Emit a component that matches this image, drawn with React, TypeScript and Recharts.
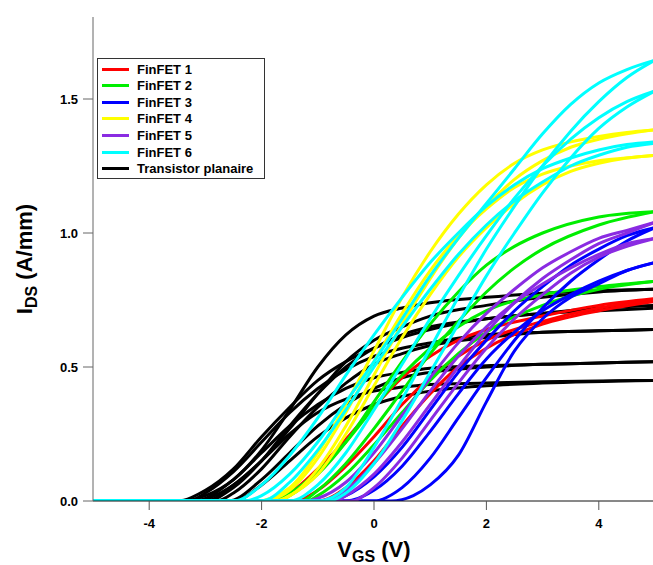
import React from 'react';
import { LineChart, Line, XAxis, YAxis, Label } from 'recharts';

type Pt = [number, number];

const xTicks = [-4, -2, 0, 2, 4];
const yTicks = [0, 0.5, 1.0, 1.5];

const deviceNames = ['FinFET 1', 'FinFET 2', 'FinFET 3', 'FinFET 4', 'FinFET 5', 'FinFET 6', 'Transistor planaire'];
const deviceColors = ['#ff0000', '#00ee00', '#0000ff', '#ffff00', '#8a2be2', '#00ffff', '#000000'];

const planarCurves: Pt[][] = [
  [[-5, 0], [-3.4, 0], [-3, 0.02], [-2.5, 0.08], [-2, 0.19], [-1.5, 0.34], [-1, 0.5], [-0.5, 0.62], [0, 0.69], [0.5, 0.72], [1, 0.74], [2, 0.76], [3, 0.775], [4, 0.785], [5, 0.79]],
  [[-5, 0], [-3.2, 0], [-2.5, 0.06], [-2, 0.15], [-1.5, 0.27], [-1, 0.4], [-0.5, 0.52], [0, 0.6], [0.5, 0.65], [1, 0.69], [2, 0.73], [3, 0.76], [4, 0.78], [5, 0.79]],
  [[-5, 0], [-3.5, 0], [-3, 0.04], [-2.5, 0.12], [-2, 0.24], [-1.5, 0.35], [-1, 0.45], [-0.5, 0.52], [0, 0.57], [0.5, 0.61], [1, 0.64], [2, 0.68], [3, 0.7], [4, 0.72], [5, 0.73]],
  [[-5, 0], [-3, 0], [-2.5, 0.05], [-2, 0.15], [-1.5, 0.28], [-1, 0.4], [-0.5, 0.5], [0, 0.57], [0.5, 0.62], [1, 0.65], [2, 0.68], [3, 0.7], [4, 0.71], [5, 0.72]],
  [[-5, 0], [-3.3, 0], [-3, 0.03], [-2.5, 0.11], [-2, 0.22], [-1.5, 0.33], [-1, 0.42], [-0.5, 0.49], [0, 0.54], [0.5, 0.57], [1, 0.59], [2, 0.62], [3, 0.63], [4, 0.635], [5, 0.64]],
  [[-5, 0], [-2.8, 0], [-2.5, 0.03], [-2, 0.12], [-1.5, 0.24], [-1, 0.35], [-0.5, 0.44], [0, 0.51], [0.5, 0.55], [1, 0.58], [2, 0.61], [3, 0.63], [4, 0.635], [5, 0.64]],
  [[-5, 0], [-3.2, 0], [-2.5, 0.08], [-2, 0.18], [-1.5, 0.28], [-1, 0.36], [-0.5, 0.42], [0, 0.46], [0.5, 0.48], [1, 0.495], [2, 0.505], [3, 0.51], [4, 0.515], [5, 0.52]],
  [[-5, 0], [-2.6, 0], [-2, 0.08], [-1.5, 0.18], [-1, 0.28], [-0.5, 0.36], [0, 0.42], [0.5, 0.46], [1, 0.48], [2, 0.5], [3, 0.51], [4, 0.515], [5, 0.52]],
  [[-5, 0], [-3, 0], [-2.5, 0.06], [-2, 0.15], [-1.5, 0.25], [-1, 0.33], [-0.5, 0.38], [0, 0.41], [0.5, 0.425], [1, 0.435], [2, 0.44], [3, 0.445], [5, 0.45]],
  [[-5, 0], [-2.5, 0], [-2, 0.06], [-1.5, 0.15], [-1, 0.24], [-0.5, 0.31], [0, 0.36], [0.5, 0.39], [1, 0.41], [2, 0.43], [3, 0.44], [5, 0.45]],
];

const finfet1Curves: Pt[][] = [
  [[-5, 0], [-1.9, 0], [-1.5, 0.03], [-1, 0.12], [-0.5, 0.23], [0, 0.35], [0.5, 0.46], [1, 0.54], [1.5, 0.6], [2, 0.64], [3, 0.69], [4, 0.73], [5, 0.755]],
  [[-5, 0], [-1.4, 0], [-1, 0.04], [-0.5, 0.13], [0, 0.24], [0.5, 0.36], [1, 0.46], [1.5, 0.54], [2, 0.6], [3, 0.67], [4, 0.72], [5, 0.75]],
  [[-5, 0], [-1, 0], [-0.5, 0.05], [0, 0.15], [0.5, 0.28], [1, 0.4], [1.5, 0.5], [2, 0.57], [3, 0.66], [4, 0.71], [5, 0.745]],
];

const finfet2Curves: Pt[][] = [
  [[-5, 0], [-1.7, 0], [-1.5, 0.02], [-1, 0.1], [-0.5, 0.22], [0, 0.37], [0.5, 0.52], [1, 0.66], [1.5, 0.78], [2, 0.88], [2.5, 0.95], [3, 1.0], [4, 1.06], [5, 1.08]],
  [[-5, 0], [-1.3, 0], [-1, 0.04], [-0.5, 0.14], [0, 0.27], [0.5, 0.41], [1, 0.55], [1.5, 0.67], [2, 0.78], [2.5, 0.87], [3, 0.94], [4, 1.03], [5, 1.08]],
  [[-5, 0], [-1.8, 0], [-1.5, 0.03], [-1, 0.11], [-0.5, 0.22], [0, 0.35], [0.5, 0.47], [1, 0.57], [1.5, 0.65], [2, 0.71], [3, 0.77], [4, 0.8], [5, 0.82]],
  [[-5, 0], [-1.2, 0], [-1, 0.02], [-0.5, 0.1], [0, 0.21], [0.5, 0.33], [1, 0.45], [1.5, 0.55], [2, 0.63], [3, 0.73], [4, 0.79], [5, 0.82]],
];

const finfet3Curves: Pt[][] = [
  [[-5, 0], [0.3, 0], [0.7, 0.02], [1, 0.06], [1.5, 0.17], [2, 0.37], [2.5, 0.56], [3, 0.68], [3.5, 0.76], [4, 0.81], [4.5, 0.86], [5, 0.89]],
  [[-5, 0], [-0.5, 0], [0, 0.04], [0.5, 0.13], [1, 0.26], [1.5, 0.4], [2, 0.53], [2.5, 0.63], [3, 0.71], [3.5, 0.77], [4, 0.82], [4.5, 0.86], [5, 0.89]],
  [[-5, 0], [-0.8, 0], [-0.5, 0.02], [0, 0.09], [0.5, 0.2], [1, 0.34], [1.5, 0.48], [2, 0.6], [2.5, 0.71], [3, 0.8], [3.5, 0.88], [4, 0.94], [4.5, 0.99], [5, 1.02]],
  [[-5, 0], [0, 0], [0.5, 0.05], [1, 0.16], [1.5, 0.31], [2, 0.46], [2.5, 0.6], [3, 0.72], [3.5, 0.82], [4, 0.9], [4.5, 0.97], [5, 1.02]],
];

const finfet4Curves: Pt[][] = [
  [[-5, 0], [-2.1, 0], [-1.5, 0.05], [-1, 0.18], [-0.5, 0.36], [0, 0.56], [0.5, 0.76], [1, 0.93], [1.5, 1.07], [2, 1.18], [2.5, 1.26], [3, 1.31], [3.5, 1.34], [4, 1.36], [4.5, 1.375], [5, 1.385]],
  [[-5, 0], [-1.8, 0], [-1.5, 0.02], [-1, 0.12], [-0.5, 0.28], [0, 0.47], [0.5, 0.66], [1, 0.83], [1.5, 0.98], [2, 1.1], [2.5, 1.2], [3, 1.27], [3.5, 1.32], [4, 1.35], [4.5, 1.37], [5, 1.385]],
  [[-5, 0], [-2.0, 0], [-1.5, 0.04], [-1, 0.16], [-0.5, 0.33], [0, 0.52], [0.5, 0.7], [1, 0.86], [1.5, 0.99], [2, 1.09], [2.5, 1.17], [3, 1.22], [3.5, 1.25], [4, 1.27], [4.5, 1.28], [5, 1.29]],
  [[-5, 0], [-1.7, 0], [-1.5, 0.02], [-1, 0.1], [-0.5, 0.25], [0, 0.43], [0.5, 0.61], [1, 0.77], [1.5, 0.91], [2, 1.02], [2.5, 1.11], [3, 1.18], [3.5, 1.23], [4, 1.26], [4.5, 1.28], [5, 1.29]],
];

const finfet5Curves: Pt[][] = [
  [[-5, 0], [-1.2, 0], [-1, 0.01], [-0.5, 0.07], [0, 0.18], [0.5, 0.32], [1, 0.46], [1.5, 0.59], [2, 0.7], [2.5, 0.79], [3, 0.87], [3.5, 0.93], [4, 0.98], [4.5, 1.01], [5, 1.04]],
  [[-5, 0], [-0.7, 0], [-0.5, 0.02], [0, 0.1], [0.5, 0.22], [1, 0.36], [1.5, 0.5], [2, 0.63], [2.5, 0.74], [3, 0.83], [3.5, 0.9], [4, 0.96], [4.5, 1.0], [5, 1.04]],
  [[-5, 0], [-1.0, 0], [-0.5, 0.04], [0, 0.14], [0.5, 0.27], [1, 0.41], [1.5, 0.54], [2, 0.65], [2.5, 0.74], [3, 0.81], [3.5, 0.87], [4, 0.92], [4.5, 0.96], [5, 0.98]],
  [[-5, 0], [-0.4, 0], [0, 0.05], [0.5, 0.16], [1, 0.3], [1.5, 0.44], [2, 0.57], [2.5, 0.68], [3, 0.77], [3.5, 0.85], [4, 0.91], [4.5, 0.95], [5, 0.98]],
];

const finfet6Curves: Pt[][] = [
  [[-5, 0], [-2.3, 0], [-2, 0.02], [-1.5, 0.1], [-1, 0.22], [-0.5, 0.37], [0, 0.52], [0.5, 0.68], [1, 0.84], [1.5, 0.98], [2, 1.11], [2.5, 1.24], [3, 1.37], [3.5, 1.48], [4, 1.56], [4.5, 1.61], [5, 1.645]],
  [[-5, 0], [-1.0, 0], [-0.5, 0.05], [0, 0.2], [0.5, 0.38], [1, 0.57], [1.5, 0.76], [2, 0.94], [2.5, 1.1], [3, 1.25], [3.5, 1.38], [4, 1.49], [4.5, 1.58], [5, 1.645]],
  [[-5, 0], [-1.5, 0], [-1, 0.06], [-0.5, 0.18], [0, 0.34], [0.5, 0.51], [1, 0.68], [1.5, 0.84], [2, 0.99], [2.5, 1.13], [3, 1.25], [3.5, 1.35], [4, 1.43], [4.5, 1.49], [5, 1.53]],
  [[-5, 0], [-0.8, 0], [-0.5, 0.03], [0, 0.14], [0.5, 0.3], [1, 0.48], [1.5, 0.66], [2, 0.84], [2.5, 1.0], [3, 1.15], [3.5, 1.28], [4, 1.39], [4.5, 1.47], [5, 1.53]],
  [[-5, 0], [-2.5, 0], [-2, 0.06], [-1.5, 0.17], [-1, 0.31], [-0.5, 0.47], [0, 0.62], [0.5, 0.76], [1, 0.89], [1.5, 1.0], [2, 1.1], [2.5, 1.18], [3, 1.24], [3.5, 1.28], [4, 1.31], [4.5, 1.33], [5, 1.34]],
  [[-5, 0], [-2.0, 0], [-1.5, 0.07], [-1, 0.19], [-0.5, 0.34], [0, 0.5], [0.5, 0.65], [1, 0.79], [1.5, 0.92], [2, 1.03], [2.5, 1.12], [3, 1.19], [3.5, 1.25], [4, 1.29], [4.5, 1.32], [5, 1.335]],
];

// drawing order: planar first, cyan last (its baseline sits on top)
const drawOrder: { curves: Pt[][]; color: string }[] = [
  { curves: planarCurves, color: deviceColors[6] },
  { curves: finfet1Curves, color: deviceColors[0] },
  { curves: finfet2Curves, color: deviceColors[1] },
  { curves: finfet4Curves, color: deviceColors[3] },
  { curves: finfet3Curves, color: deviceColors[2] },
  { curves: finfet5Curves, color: deviceColors[4] },
  { curves: finfet6Curves, color: deviceColors[5] },
];

const FONT = '"Liberation Sans", Arial, Helvetica, sans-serif';

const XLabel = (props: any) => {
  const vb = props.viewBox || {};
  const cx = vb.x + vb.width / 2;
  return (
    <text x={cx} y={557} textAnchor="middle" fontFamily={FONT} fontWeight="bold" fontSize={22} fill="#000">
      <tspan>V</tspan>
      <tspan fontSize={16} dy={5}>GS</tspan>
      <tspan dy={-5}> (V)</tspan>
    </text>
  );
};

const YLabel = (props: any) => {
  const vb = props.viewBox || {};
  const cy = vb.y + vb.height / 2;
  const x = 32;
  return (
    <text x={x} y={cy} transform={`rotate(-90, ${x}, ${cy})`} textAnchor="middle" fontFamily={FONT} fontWeight="bold" fontSize={22} fill="#000">
      <tspan>I</tspan>
      <tspan fontSize={16} dy={5}>DS</tspan>
      <tspan dy={-5}> (A/mm)</tspan>
    </text>
  );
};

const EmptyTick = () => <g />;

export default function App() {
  let k = 0;
  return (
    <div style={{ position: 'relative', width: 653, height: 565, overflow: 'hidden', background: '#fff' }}>
      <style>{'body{margin:0}'}</style>
      <LineChart width={668} height={565} margin={{ top: 17, right: 13, bottom: 24, left: 0 }}>
        <XAxis
          xAxisId="top"
          orientation="top"
          type="number"
          dataKey="x"
          domain={[-5, 5]}
          ticks={xTicks}
          height={0}
          tick={EmptyTick}
          tickSize={9}
          axisLine={{ stroke: '#333', strokeWidth: 1 }}
          tickLine={{ stroke: '#333', strokeWidth: 1 }}
        />
        <XAxis
          type="number"
          dataKey="x"
          domain={[-5, 5]}
          ticks={xTicks}
          allowDataOverflow
          height={40}
          tickSize={9}
          tickMargin={9}
          axisLine={{ stroke: '#111', strokeWidth: 1 }}
          tickLine={{ stroke: '#555', strokeWidth: 1 }}
          tick={{ fill: '#000', fontFamily: FONT, fontWeight: 'bold', fontSize: 13 }}
          label={<Label content={XLabel} />}
        />
        <YAxis
          type="number"
          domain={[0, 1.806]}
          ticks={yTicks}
          allowDataOverflow
          width={93}
          tickSize={10}
          tickMargin={5}
          tickFormatter={(v: number) => v.toFixed(1)}
          axisLine={{ stroke: '#666', strokeWidth: 1 }}
          tickLine={{ stroke: '#666', strokeWidth: 1 }}
          tick={{ fill: '#000', fontFamily: FONT, fontWeight: 'bold', fontSize: 13 }}
          label={<Label content={YLabel} />}
        />
        {drawOrder.map((dev) =>
          dev.curves.map((curve) => {
            const id = k++;
            return (
              <Line
                key={id}
                data={curve.map(([x, y]) => ({ x, y }))}
                dataKey="y"
                type="monotone"
                stroke={dev.color}
                strokeWidth={3}
                dot={false}
                activeDot={false}
                legendType="none"
                isAnimationActive={false}
              />
            );
          })
        )}
      </LineChart>
      <div
        style={{
          position: 'absolute',
          left: 97,
          top: 58,
          width: 166,
          height: 119,
          border: '1px solid #333',
          background: '#fff',
          fontFamily: FONT,
          fontWeight: 'bold',
          fontSize: 13,
        }}
      >
        {deviceNames.map((name, i) => (
          <div key={name} style={{ position: 'absolute', left: 4, top: 2 + i * 16.6, height: 16, display: 'flex', alignItems: 'center' }}>
            <div style={{ width: 27, height: 3, background: deviceColors[i], marginRight: 8 }} />
            <span style={{ whiteSpace: 'nowrap', color: '#000' }}>{name}</span>
          </div>
        ))}
      </div>
    </div>
  );
}
